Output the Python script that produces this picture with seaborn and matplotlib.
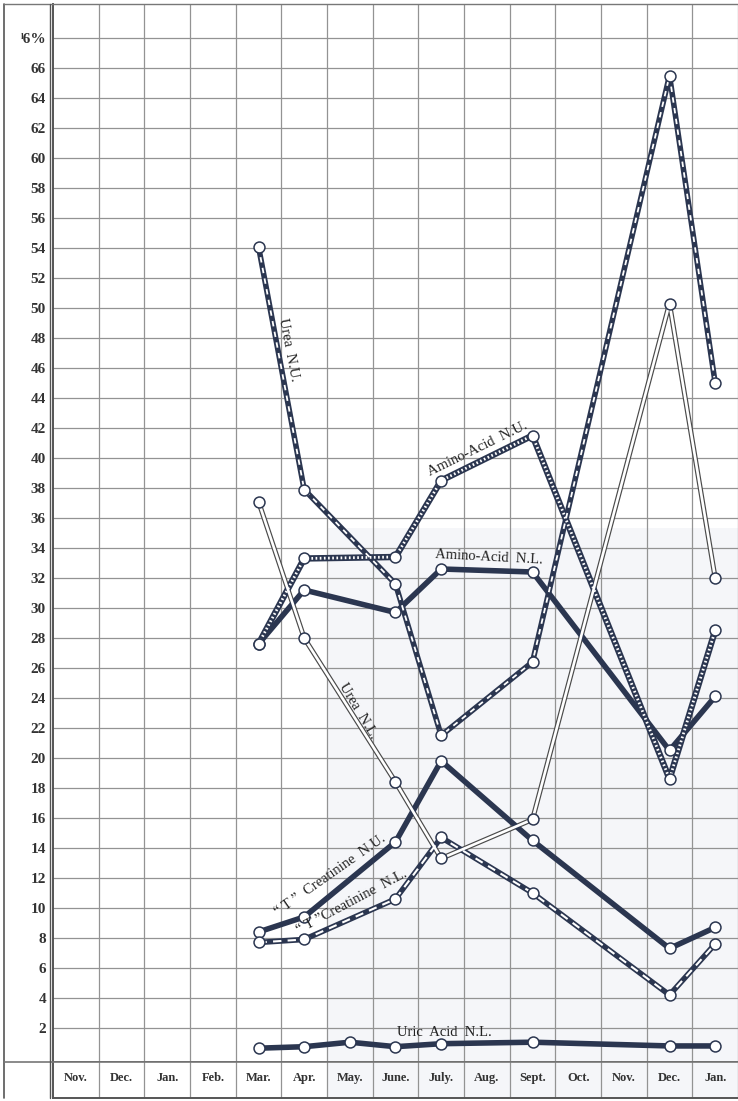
"""
Gráfico de nitrogênio (% do N total) por mês — recriação do quadro escaneado.
"""

import matplotlib

matplotlib.use("Agg")

import matplotlib.pyplot as plt
import pandas as pd
import seaborn as sns
from matplotlib.lines import Line2D
from matplotlib.patches import Rectangle

sns.set_style("white")
plt.rcParams["font.family"] = ["Liberation Serif", "DejaVu Serif"]

MESES = ["Nov.", "Dec.", "Jan.", "Feb.", "Mar.", "Apr.", "May.", "June.",
         "July.", "Aug.", "Sept.", "Oct.", "Nov.", "Dec.", "Jan."]
POS_OBS = [4, 5, 7, 8, 10, 13, 14]          # Mar, Apr, June, July, Sept, Dec, Jan
POS_URICO = [4, 5, 6, 7, 8, 10, 13, 14]     # Uric acid tem também May

urea_nu = [54.1, 37.9, 31.6, 21.5, 26.4, 65.5, 45.0]
urea_nl = [37.1, 28.0, 18.4, 13.3, 15.9, 50.3, 32.0]
amino_nu = [27.6, 33.3, 33.4, 38.5, 41.5, 18.6, 28.5]
amino_nl = [27.6, 31.2, 29.7, 32.6, 32.4, 20.5, 24.1]
creat_nu = [8.4, 9.4, 14.4, 19.8, 14.5, 7.3, 8.7]
creat_nl = [7.7, 7.9, 10.6, 14.7, 11.0, 4.2, 7.6]
uric_nl = [0.65, 0.75, 1.05, 0.75, 0.95, 1.05, 0.8, 0.8]

Y_TICKS = list(range(2, 68, 2))

ESCURO = "#2b3650"
GRADE = "#939393"
TINTA = "#f5f6f9"

W, H = 738, 1101
fig = plt.figure(figsize=(W / 100, H / 100), dpi=100)
ax = fig.add_axes([53 / W, (H - 1062) / H, (W - 53) / W, (1062 - 4) / H])
ax.set_xlim(-0.5, 14.5)
ax.set_ylim(-0.27, 70.27)

# fundo levemente azulado do canto inferior direito (efeito do escaneamento)
ax.add_patch(Rectangle((5.5, -0.27), 9.0, 35.6, facecolor=TINTA, edgecolor="none", zorder=0))

# grade
for y in Y_TICKS + [68]:
    ax.axhline(y, color=GRADE, lw=0.9, zorder=1)
for k in range(len(MESES)):
    ax.axvline(k + 0.5, color=GRADE, lw=0.9, zorder=1)

ax.set_xticks([])
ax.set_yticks(Y_TICKS + [68])
ax.set_yticklabels([str(v) for v in Y_TICKS] + ["ˡ6%"], fontsize=11,
                   fontweight="bold", color="#333333")
ax.tick_params(axis="y", length=0, pad=5)
for lado in ["top", "right"]:
    ax.spines[lado].set_visible(False)
for lado in ["left", "bottom"]:
    ax.spines[lado].set_color("#555555")
    ax.spines[lado].set_linewidth(1.4)


def serie(x, y, camadas):
    """Desenha uma série como pilha de linhas (base escura + detalhe branco) e círculos."""
    df = pd.DataFrame({"x": x, "y": y})
    for z, kw in enumerate(camadas):
        sns.lineplot(data=df, x="x", y="y", ax=ax, zorder=3 + z * 0.1,
                     legend=False, solid_capstyle="butt", **kw)
    sns.scatterplot(data=df, x="x", y="y", ax=ax, s=62, color="white",
                    edgecolor=ESCURO, linewidth=1.1, zorder=6, legend=False)


# Urea N.U. — linha escura com traços brancos
serie(POS_OBS, urea_nu, [dict(color=ESCURO, lw=4.0),
                         dict(color="white", lw=1.3, linestyle=(0, (3, 3)))])
# Urea N.L. — linha dupla fina
serie(POS_OBS, urea_nl, [dict(color="#4a4a4a", lw=3.6),
                         dict(color="white", lw=1.9)])
# Amino-Acid N.U. — linha hachurada
serie(POS_OBS, amino_nu, [dict(color=ESCURO, lw=4.6),
                          dict(color="white", lw=2.0, linestyle=(0, (0.6, 0.9)))])
# Amino-Acid N.L. — linha cheia
serie(POS_OBS, amino_nl, [dict(color=ESCURO, lw=4.0)])
# "T" Creatinine N.U. — linha cheia
serie(POS_OBS, creat_nu, [dict(color=ESCURO, lw=4.0)])
# "T" Creatinine N.L. — linha escura com traços brancos longos
serie(POS_OBS, creat_nl, [dict(color=ESCURO, lw=4.0),
                          dict(color="white", lw=1.5, linestyle=(0, (4, 3)))])
# Uric Acid N.L.
serie(POS_URICO, uric_nl, [dict(color=ESCURO, lw=4.0)])

ax.set_xlabel("")
ax.set_ylabel("")
ax.set_xlim(-0.5, 14.5)
ax.set_ylim(-0.27, 70.27)

# rótulos sobre as curvas
rotulos = [
    ("Urea  N.U.", 4.66, 47.2, -79),
    ("Amino-Acid  N.U.", 8.80, 40.6, 26),
    ("Amino-Acid  N.L.", 9.04, 33.4, -3),
    ("Urea  N.L.", 6.17, 23.1, -59),
    ("\u201c T \u201d  Creatinine  N.U.", 5.56, 12.2, 35),
    ("\u201c T \u201dCreatinine  N.L.", 6.04, 10.4, 28),
    ("Uric  Acid  N.L.", 8.08, 1.7, 0),
]
for texto, x, y, rot in rotulos:
    ax.text(x, y, texto, rotation=rot, rotation_mode="anchor", ha="center",
            va="center", fontsize=10.5, color="#222222", zorder=7)

# faixa dos meses
lab = fig.add_axes([53 / W, (H - 1098) / H, (W - 53) / W, 36 / H])
lab.set_xlim(-0.5, 14.5)
lab.set_ylim(0, 1)
lab.add_patch(Rectangle((5.5, 0), 9.0, 1, facecolor=TINTA, edgecolor="none", zorder=0))
for k in range(len(MESES)):
    lab.axvline(k + 0.5, color=GRADE, lw=0.9)
for k, nome in enumerate(MESES):
    lab.text(k, 0.55, nome, ha="center", va="center", fontsize=9,
             fontweight="bold", color="#333333")
lab.set_xticks([])
lab.set_yticks([])
for lado in ["top", "right"]:
    lab.spines[lado].set_visible(False)
for lado in ["left", "bottom"]:
    lab.spines[lado].set_color("#555555")
    lab.spines[lado].set_linewidth(1.4)

# moldura externa e segunda linha do eixo
fig.add_artist(Line2D([4 / W, 4 / W], [3 / H, (H - 4) / H], color="#555555", lw=1.2))
fig.add_artist(Line2D([4 / W, 1], [(H - 1062) / H] * 2, color="#777777", lw=1.2))
fig.add_artist(Line2D([4 / W, 1], [(H - 4) / H] * 2, color="#777777", lw=1.0))
fig.add_artist(Line2D([49.5 / W] * 2, [3 / H, (H - 4) / H], color="#555555", lw=1.0))

fig.savefig("out.png", dpi=100, facecolor="white")
